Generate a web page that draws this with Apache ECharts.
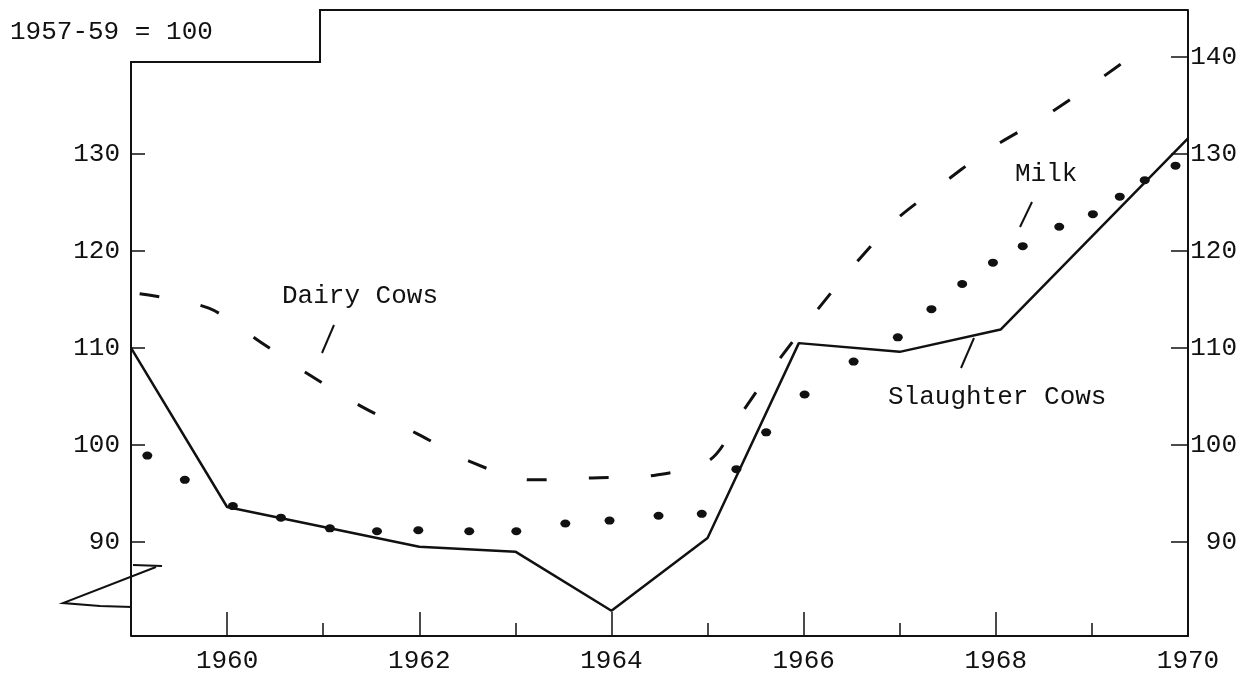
<!DOCTYPE html>
<html>
<head>
<meta charset="utf-8">
<script src="https://cdn.jsdelivr.net/npm/echarts@6/dist/echarts.min.js"></script>
<style>
  html, body { margin: 0; background: #fff; }
  #chart { width: 1250px; height: 679px; }
</style>
</head>
<body>
<div id="chart"></div>
<script>
// index 1957-59 = 100
var slaughterCows = [[1959, 110], [1960, 93.6], [1962, 89.5], [1963, 89], [1964, 82.9],
  [1965, 90.4], [1965.95, 110.5], [1967, 109.6], [1968.05, 111.9], [1970, 131.6]];

var dairyCows = [[1959.09, 115.6], [1959.81, 114.1], [1960.35, 110.6], [1960.83, 107.4],
  [1961.43, 103.8], [1961.97, 101.2], [1962.55, 98.2], [1963.16, 96.4], [1963.8, 96.6],
  [1964.47, 96.9], [1965.03, 98.5], [1965.37, 103.5], [1965.7, 108.2], [1966.1, 113.4],
  [1966.53, 118.6], [1966.96, 123.2], [1967.36, 126.3], [1967.92, 130.4], [1968.48, 133.7],
  [1969.05, 137.5], [1969.58, 141.3]];

var milk = [[1959.17, 98.9], [1959.56, 96.4], [1960.06, 93.7], [1960.56, 92.5], [1961.07, 91.4],
  [1961.56, 91.1], [1961.99, 91.2], [1962.52, 91.1], [1963.01, 91.1], [1963.52, 91.9],
  [1963.98, 92.2], [1964.49, 92.7], [1964.94, 92.9], [1965.3, 97.5], [1965.61, 101.3],
  [1966.01, 105.2], [1966.52, 108.6], [1966.98, 111.1], [1967.33, 114], [1967.65, 116.6],
  [1967.97, 118.8], [1968.28, 120.5], [1968.66, 122.5], [1969.01, 123.8], [1969.29, 125.6],
  [1969.55, 127.3], [1969.87, 128.8]];

var yearLabels = [1960, 1962, 1964, 1966, 1968, 1970];
var oddYears = [1961, 1963, 1965, 1967, 1969];
var leftTicks = [90, 100, 110, 120, 130];
var rightTicks = [90, 100, 110, 120, 130, 140];

var ink = '#111';
var font = '"Liberation Mono", "DejaVu Sans Mono", monospace';

var chart = echarts.init(document.getElementById('chart'));
chart.setOption({
  animation: false,
  backgroundColor: '#fff',
  grid: { left: 131, right: 62, top: 10, bottom: 43 },
  xAxis: [
    {
      type: 'value', min: 1959, max: 1970,
      splitLine: { show: false },
      axisLine: { lineStyle: { color: ink, width: 2 } },
      axisTick: { inside: true, length: 24, customValues: yearLabels, lineStyle: { color: ink, width: 1.5 } },
      axisLabel: { customValues: yearLabels, margin: 12, color: ink, fontFamily: font, fontSize: 26,
        formatter: function (v) { return String(v); } }
    },
    {
      // short ticks for odd years
      type: 'value', min: 1959, max: 1970, position: 'bottom',
      splitLine: { show: false },
      axisLine: { show: false },
      axisTick: { inside: true, length: 13, customValues: oddYears, lineStyle: { color: ink, width: 1.5 } },
      axisLabel: { show: false }
    }
  ],
  yAxis: [
    {
      type: 'value', min: 80.3, max: 144.85, position: 'left',
      splitLine: { show: false },
      axisLine: { show: false },
      axisTick: { inside: true, length: 14, customValues: leftTicks, lineStyle: { color: ink, width: 1.5 } },
      axisLabel: { customValues: leftTicks, margin: 11, color: ink, fontFamily: font, fontSize: 26 }
    },
    {
      type: 'value', min: 80.3, max: 144.85, position: 'right',
      splitLine: { show: false },
      axisLine: { show: true, lineStyle: { color: ink, width: 2 } },
      axisTick: { inside: true, length: 17, customValues: rightTicks, lineStyle: { color: ink, width: 1.5 } },
      axisLabel: { customValues: rightTicks, margin: 49, align: 'right', color: ink, fontFamily: font, fontSize: 26 }
    }
  ],
  series: [
    {
      name: 'Slaughter Cows', type: 'line', data: slaughterCows,
      symbol: 'none', lineStyle: { color: ink, width: 2.5 }
    },
    {
      name: 'Dairy Cows', type: 'line', data: dairyCows, smooth: 0.3,
      symbol: 'none', lineStyle: { color: ink, width: 3, type: [20, 42] }
    },
    {
      name: 'Milk', type: 'scatter', data: milk,
      symbol: 'circle', symbolSize: [10, 8], itemStyle: { color: ink, opacity: 1 }
    }
  ],
  graphic: [
    // frame pieces that the axes do not draw
    { type: 'polyline', shape: { points: [[131, 636], [131, 62], [320, 62], [320, 10], [1188, 10]] },
      style: { stroke: ink, lineWidth: 2, fill: null } },
    // stray pen stroke at lower left
    { type: 'polyline', shape: { points: [[133, 565], [162, 566]] }, style: { stroke: ink, lineWidth: 2, fill: null } },
    { type: 'polyline', shape: { points: [[156, 567], [63, 603], [100, 606], [132, 607]] },
      style: { stroke: ink, lineWidth: 2, fill: null } },
    { type: 'text', left: 10, top: 19, style: { text: '1957-59 = 100', font: '26px ' + font, fill: ink } },
    { type: 'text', left: 282, top: 283, style: { text: 'Dairy Cows', font: '26px ' + font, fill: ink } },
    { type: 'text', left: 1015, top: 161, style: { text: 'Milk', font: '26px ' + font, fill: ink } },
    { type: 'text', left: 888, top: 384, style: { text: 'Slaughter Cows', font: '26px ' + font, fill: ink } },
    { type: 'line', shape: { x1: 334, y1: 325, x2: 322, y2: 353 }, style: { stroke: ink, lineWidth: 2 } },
    { type: 'line', shape: { x1: 1032, y1: 202, x2: 1020, y2: 227 }, style: { stroke: ink, lineWidth: 2 } },
    { type: 'line', shape: { x1: 974, y1: 338, x2: 961, y2: 368 }, style: { stroke: ink, lineWidth: 2 } }
  ]
});
</script>
</body>
</html>
